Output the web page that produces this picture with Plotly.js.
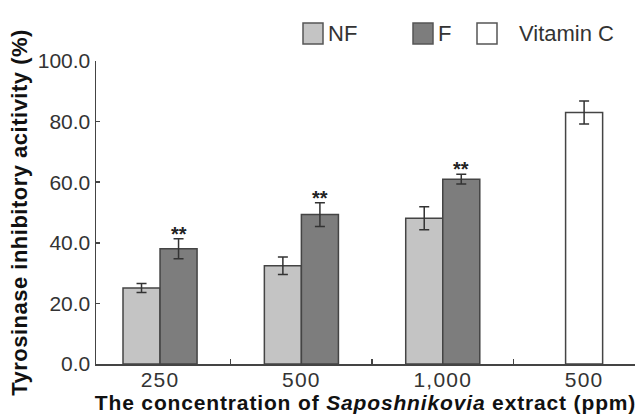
<!DOCTYPE html>
<html>
<head>
<meta charset="utf-8">
<script src="https://cdn.plot.ly/plotly-3.0.1.min.js"></script>
<style>
html,body{margin:0;padding:0;background:#fff}
#chart{width:638px;height:417px}
#chart .xtitle{letter-spacing:0.85px}
#chart .ytitle{letter-spacing:0.5px}
#chart .xtick text{letter-spacing:1.2px}
</style>
</head>
<body>
<div id="chart"></div>
<script>
// Data
const categories = ['c250', 'c500', 'c1000', 'cVC'];
const tickLabels = ['250', '500', '1,000', '500'];
const extractCats = ['c250', 'c500', 'c1000'];
const seriesNames = ['NF', 'F', 'Vitamin C'];
const seriesColors = ['#c4c4c4', '#7d7d7d', '#ffffff'];
const nfValues = [25.1, 32.4, 48.1];
const nfErrors = [1.5, 2.9, 3.8];
const fValues = [38.0, 49.3, 61.0];
const fErrors = [3.3, 3.9, 1.6];
const vcCats = ['cVC'];
const vcValues = [83.0];
const vcErrors = [3.8];
const sigLabels = ['**', '**', '**'];

const font = 'Liberation Sans, Arial, sans-serif';
const lineCol = '#444';
const bw = 0.262;

// plot area in pixels (for legend placement)
const L = 96, R = 635, T = 61, B = 364;
const px2x = p => (p - L) / (R - L);
const px2y = p => (B - p) / (B - T);

function errBar(arr) {
  return {type: 'data', array: arr, visible: true, color: '#333', thickness: 1.5, width: 5};
}

const traces = [
  {type: 'bar', name: seriesNames[0], x: extractCats, y: nfValues, offset: -bw, width: bw,
   marker: {color: seriesColors[0], line: {color: lineCol, width: 1.5}},
   error_y: errBar(nfErrors)},
  {type: 'bar', name: seriesNames[1], x: extractCats, y: fValues, offset: 0, width: bw,
   marker: {color: seriesColors[1], line: {color: lineCol, width: 1.5}},
   error_y: errBar(fErrors)},
  {type: 'bar', name: seriesNames[2], x: vcCats, y: vcValues, offset: -bw / 2, width: bw,
   marker: {color: seriesColors[2], line: {color: lineCol, width: 1.5}},
   error_y: errBar(vcErrors)}
];

const annotations = extractCats.map((c, i) => ({
  x: c, y: fValues[i] + fErrors[i], xref: 'x', yref: 'y', yanchor: 'bottom',
  xshift: bw / 2 * 141, yshift: -8, text: '<b>' + sigLabels[i] + '</b>', showarrow: false,
  font: {family: font, size: 20, color: '#222'}
}));

// custom legend: swatches + labels
const swatchLeft = [303, 413, 477];
const labelLeft = [326, 436, 517];
const shapes = [];
seriesNames.forEach((n, i) => {
  shapes.push({type: 'rect', xref: 'paper', yref: 'paper',
    x0: px2x(swatchLeft[i]), x1: px2x(swatchLeft[i] + 20), y0: px2y(44), y1: px2y(23),
    fillcolor: seriesColors[i], line: {color: '#555', width: 1.5}});
  annotations.push({xref: 'paper', yref: 'paper', x: px2x(labelLeft[i]), y: px2y(34),
    xanchor: 'left', yanchor: 'middle', text: n, showarrow: false,
    font: {family: font, size: 22, color: '#333'}});
});

const layout = {
  width: 638, height: 417,
  margin: {l: L, r: 638 - R, t: T, b: 417 - B},
  paper_bgcolor: '#fff', plot_bgcolor: '#fff',
  font: {family: font, size: 16, color: '#333'},
  barmode: 'overlay',
  showlegend: false,
  xaxis: {
    type: 'category', categoryorder: 'array', categoryarray: categories,
    tickvals: categories, ticktext: tickLabels,
    range: [-0.453, 3.36],
    showline: true, linecolor: lineCol, linewidth: 1.5,
    ticks: 'inside', tickson: 'boundaries', ticklen: 5, tickcolor: lineCol, tickwidth: 1.5,
    ticklabelstandoff: -4,
    showgrid: false, zeroline: false,
    tickfont: {family: font, size: 21, color: '#333'},
    title: {text: '<b>The concentration of <i>Saposhnikovia</i> extract (ppm)</b>',
      font: {family: font, size: 21, color: '#111'}, standoff: 0}
  },
  yaxis: {
    range: [0, 100], tickvals: [0, 20, 40, 60, 80, 100], tickformat: '.1f',
    showline: true, linecolor: lineCol, linewidth: 1.5,
    ticks: 'inside', ticklen: 4, tickcolor: lineCol, tickwidth: 1.5,
    showgrid: false, zeroline: false,
    tickfont: {family: font, size: 21, color: '#333'},
    title: {text: '<b>Tyrosinase inhibitory acitivity (%)</b>',
      font: {family: font, size: 22, color: '#111'}, standoff: 4}
  },
  shapes: shapes,
  annotations: annotations
};

Plotly.newPlot('chart', traces, layout, {displayModeBar: false, staticPlot: true});
</script>
</body>
</html>
